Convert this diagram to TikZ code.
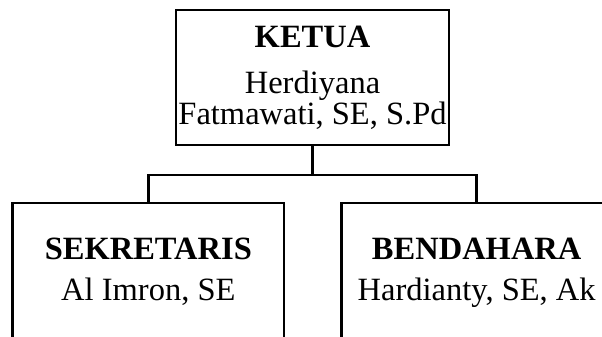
\documentclass[tikz,border=0pt]{standalone}
\usepackage{fontspec}
\setmainfont{Liberation Serif}
\begin{document}
\begin{tikzpicture}[x=1pt,y=1pt,
  box/.style={draw=black,line width=2.6pt,rectangle,inner sep=0pt,fill=white},
  conn/.style={draw=black,line width=2.6pt},
  ttl/.style={anchor=base,inner sep=0pt,font=\fontsize{32.5}{34}\selectfont\bfseries},
  nm/.style={anchor=base,inner sep=0pt,font=\fontsize{32.5}{34}\selectfont}]
\useasboundingbox (0,0) rectangle (602,-337);
\clip (0,0) rectangle (602,-337);
\fill[white] (0,0) rectangle (602,-337);
% boxes
\node[box,minimum width=273pt,minimum height=135pt] (ketua) at (312.5,-77.5) {};
\node[box,minimum width=271.3pt,minimum height=170pt] (sek) at (148.35,-288) {};
\node[box,minimum width=270pt,minimum height=170pt] (ben) at (476.7,-288) {};
% connectors
\coordinate (j) at (312.5,-175);
\coordinate (jl) at (sek.north |- j);
\coordinate (jr) at (ben.north |- j);
\draw[conn] (ketua.south) -- (j);
\draw[conn,line cap=rect] (jl) -- (jr);
\draw[conn] (jl) -- (sek.north);
\draw[conn] (jr) -- (ben.north);
% texts
\node[ttl] (t1) at (312.5,-48) {KETUA};
\node[nm] (t2) at (312.5,-93) {Herdiyana};
\node[nm] (t3) at (312.5,-124) {Fatmawati, SE, S.Pd};
\node[ttl] (t4) at (148.35,-259) {SEKRETARIS};
\node[nm] (t5) at (148.35,-300) {Al Imron, SE};
\node[ttl] (t6) at (476.7,-259) {BENDAHARA};
\node[nm] (t7) at (476.7,-300) {Hardianty, SE, Ak};
\end{tikzpicture}
\end{document}
